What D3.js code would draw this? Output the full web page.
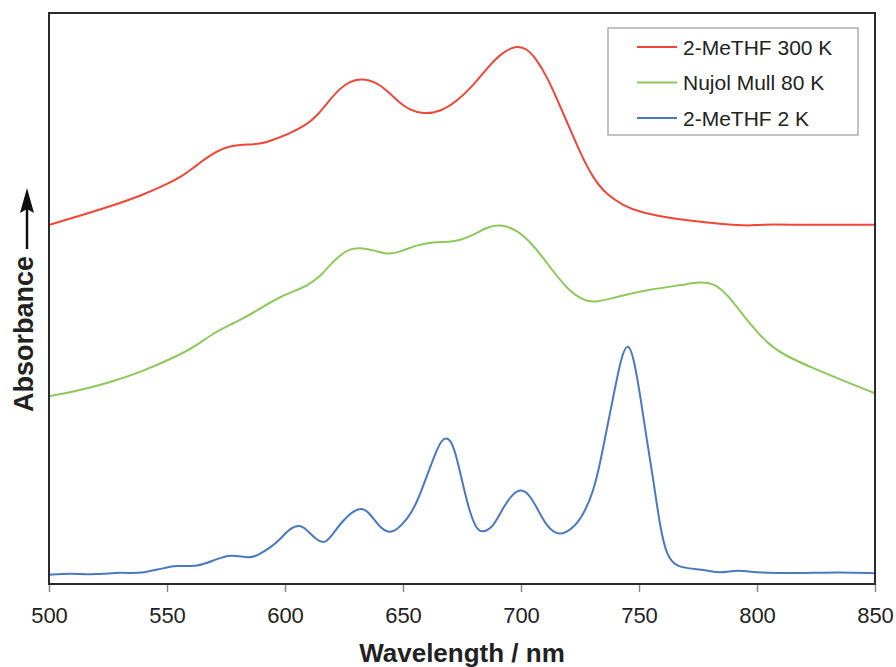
<!DOCTYPE html>
<html>
<head>
<meta charset="utf-8">
<script src="https://cdn.jsdelivr.net/npm/d3@7"></script>
<style>
  body { margin: 0; background: #fff; }
  text { font-family: "Liberation Sans", Arial, sans-serif; fill: #222; }
</style>
</head>
<body>
<div id="chart"></div>
<script>
// x ticks (nm)
const xTicks = [500, 550, 600, 650, 700, 750, 800, 850];

// 2-MeTHF 300 K
const redWl = [500, 510, 525, 539, 550, 557, 561, 567, 575, 581, 587, 591, 595, 602, 609, 613.4, 619, 623.3, 627.5, 632, 636, 640, 644.5, 648.7, 653, 658.6, 665.7, 672.8, 679.8, 686.9, 692.5, 698.2, 702.4, 706.6, 710.9, 715.1, 719.4, 725, 730.6, 736.3, 743.3, 750.4, 764.5, 785.7, 798, 800, 820, 850];
const redAbs = [62.9, 64.1, 66.0, 68.0, 70.0, 71.6, 72.8, 74.8, 76.6, 76.9, 77.0, 77.2, 77.8, 78.9, 80.4, 81.9, 84.8, 86.8, 88.0, 88.5, 88.2, 87.5, 85.9, 84.2, 83.0, 82.3, 82.7, 84.5, 87.3, 91.0, 93.2, 94.3, 93.8, 91.9, 88.9, 85.1, 81.0, 75.6, 71.0, 68.2, 66.3, 65.1, 63.9, 63.0, 62.7, 63.0, 62.9, 62.9];

// Nujol Mull 80 K
const greenWl = [500, 510, 525, 539, 557, 564, 569.6, 576.7, 583.8, 590.8, 598, 605, 609.2, 614.8, 619.1, 623.3, 627.5, 631.8, 637.4, 643.1, 648.7, 655.8, 662.8, 669.9, 674, 679.8, 685.5, 691, 698.2, 705.2, 712.3, 719.4, 726.4, 732, 740.6, 754.7, 768.8, 775.8, 781.5, 787.2, 795.7, 804.2, 811.2, 825.4, 839.5, 850];
const greenAbs = [32.9, 33.6, 35.2, 37.1, 40.4, 42.2, 43.9, 45.4, 46.8, 48.6, 50.3, 51.5, 52.2, 53.8, 55.9, 57.6, 58.7, 58.9, 58.5, 57.7, 58.1, 59.4, 59.9, 59.9, 60.2, 61.1, 62.5, 63.0, 62.1, 59.4, 55.5, 51.7, 49.6, 49.3, 50.3, 51.6, 52.4, 52.9, 52.7, 50.9, 46.2, 42.2, 40.1, 37.5, 35.1, 33.4];

// 2-MeTHF 2 K
const blueWl = [500, 509, 519, 531, 537, 547, 554, 563, 570, 577, 585, 589, 593.6, 597.9, 602.1, 606.4, 609.2, 613.4, 617, 620.5, 624.7, 629, 632.5, 636, 640.3, 644.5, 647.3, 651.6, 655.8, 660, 664.3, 666.4, 668.5, 670.6, 672.7, 675.6, 678.4, 681.2, 684, 688.3, 692.5, 696.7, 699.9, 703.1, 706.6, 710.9, 716.2, 722.2, 726.4, 730.7, 733.5, 736.3, 739.1, 742.6, 745.2, 747.6, 750.4, 753.3, 756.1, 758.9, 761.8, 766, 775, 780, 784, 792, 801, 818, 835, 850];
const blueAbs = [1.6, 1.9, 1.6, 2.1, 1.75, 2.6, 3.3, 3.0, 4.2, 5.3, 4.4, 5.2, 6.3, 7.8, 9.8, 10.4, 9.5, 7.7, 7.0, 8.9, 11.2, 12.8, 13.4, 12.4, 9.8, 8.9, 9.5, 11.2, 14.1, 18.8, 23.5, 25.2, 25.7, 24.9, 22.3, 17.0, 12.4, 9.5, 9.0, 10.0, 13.5, 15.9, 16.6, 15.9, 13.5, 10.0, 8.3, 9.8, 12.1, 16.2, 21.1, 27.0, 32.8, 40.0, 42.3, 40.0, 33.4, 25.2, 18.2, 10.0, 4.8, 2.9, 2.6, 2.3, 1.9, 2.5, 1.9, 1.9, 2.1, 1.9];

const seriesNames = ['2-MeTHF 300 K', 'Nujol Mull 80 K', '2-MeTHF 2 K'];
const seriesColors = ['#ef4638', '#8dc85a', '#4a78c3'];

const series = [
  { wl: redWl, abs: redAbs },
  { wl: greenWl, abs: greenAbs },
  { wl: blueWl, abs: blueAbs }
].map((s, i) => ({
  name: seriesNames[i],
  color: seriesColors[i],
  points: s.wl.map((w, j) => [w, s.abs[j]])
}));

const width = 896, height = 667;
const margin = { top: 13, right: 21, bottom: 83, left: 49 };

const svg = d3.select('#chart').append('svg')
  .attr('width', width)
  .attr('height', height);

const x = d3.scaleLinear().domain([500, 850]).range([margin.left, width - margin.right]);
const y = d3.scaleLinear().domain([0, 100]).range([height - margin.bottom, margin.top]);

// dense readings, so a B-spline keeps the shape and irons out reading jitter
const line = d3.line()
  .x(d => x(d[0]))
  .y(d => y(d[1]))
  .curve(d3.curveBasis);

// spectra
svg.append('g')
  .selectAll('path').data(series)
  .enter().append('path')
  .attr('d', d => line(d.points))
  .attr('fill', 'none')
  .attr('stroke', d => d.color)
  .attr('stroke-width', 2)
  .attr('stroke-linejoin', 'round');

// x axis
const xAxis = d3.axisBottom(x).tickValues(xTicks).tickSize(8).tickPadding(15).tickFormat(d3.format('d'));
const gx = svg.append('g')
  .attr('transform', `translate(0, ${height - margin.bottom})`)
  .call(xAxis);
gx.select('.domain').remove();
gx.selectAll('.tick line').attr('stroke', '#8a8a8a').attr('stroke-width', 1.5);
gx.selectAll('.tick text')
  .attr('font-size', 22)
  .attr('font-family', '"Liberation Sans", Arial, sans-serif')
  .attr('fill', '#222');

// frame
svg.append('rect')
  .attr('x', margin.left)
  .attr('y', margin.top)
  .attr('width', width - margin.left - margin.right)
  .attr('height', height - margin.top - margin.bottom)
  .attr('fill', 'none')
  .attr('stroke', '#2b2b2b')
  .attr('stroke-width', 2);

// axis titles
svg.append('text')
  .attr('x', (margin.left + width - margin.right) / 2)
  .attr('y', 662)
  .attr('text-anchor', 'middle')
  .attr('font-size', 26)
  .attr('font-weight', 'bold')
  .text('Wavelength / nm');

svg.append('text')
  .attr('transform', 'translate(33, 334) rotate(-90)')
  .attr('text-anchor', 'middle')
  .attr('font-size', 27)
  .attr('font-weight', 'bold')
  .text('Absorbance');

// arrow next to y title
svg.append('line')
  .attr('x1', 27).attr('x2', 27)
  .attr('y1', 249).attr('y2', 205)
  .attr('stroke', '#111')
  .attr('stroke-width', 2.5);
svg.append('path')
  .attr('d', 'M27,188 L34,213 L27,209 L20,213 Z')
  .attr('fill', '#111');

// legend
const legend = svg.append('g').attr('transform', 'translate(608, 28)');
legend.append('rect')
  .attr('width', 250)
  .attr('height', 107)
  .attr('fill', '#fff')
  .attr('stroke', '#9a9a9a')
  .attr('stroke-width', 1.2);

const items = legend.selectAll('g.item').data(series)
  .enter().append('g')
  .attr('class', 'item')
  .attr('transform', (_, i) => `translate(0, ${19 + i * 35.5})`);
items.append('line')
  .attr('x1', 29).attr('x2', 69)
  .attr('stroke', d => d.color)
  .attr('stroke-width', 2);
items.append('text')
  .attr('x', 75)
  .attr('dy', '0.36em')
  .attr('font-size', 21)
  .text(d => d.name);
</script>
</body>
</html>
